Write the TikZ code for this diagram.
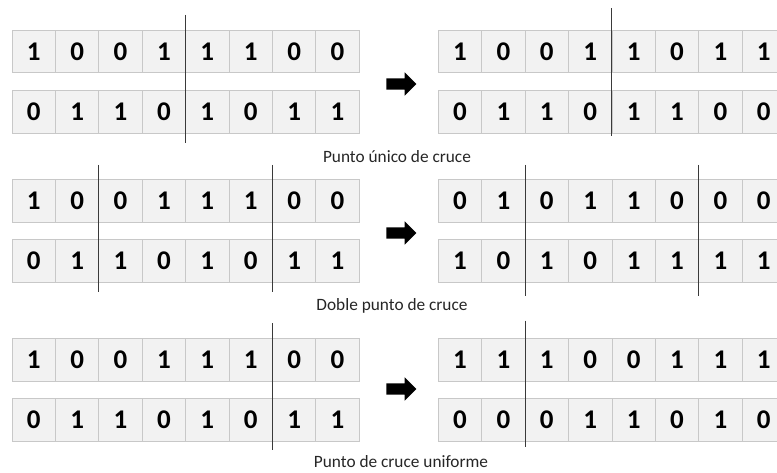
\documentclass[tikz,border=0pt]{standalone}
\usepackage{fontspec}
\setmainfont{Carlito}
\usetikzlibrary{shapes.arrows}
\definecolor{cellfill}{HTML}{F2F2F2}
\definecolor{cellline}{HTML}{C8C8C8}
\definecolor{cutline}{HTML}{3A3A3A}
\newcommand\bitrow[4]{% name, x0, ytop, bits
  \foreach \v [count=\i] in {#4} {
    \node[cellbox] (#1c\i) at ({#2+(\i-0.5)*43.4},{#3+21.35}) {\v};
  }}
\begin{document}
\begin{tikzpicture}[x=1pt,y=-1pt,
  cellbox/.style={draw=cellline,line width=0.8pt,fill=cellfill,minimum width=43.4pt,minimum height=42.7pt,inner sep=0pt,font=\fontsize{27}{32}\selectfont\bfseries},
  cutln/.style={draw=cutline,line width=0.9pt},
  bigarrow/.style={single arrow,fill=black,draw=none,minimum height=30pt,inner xsep=0pt,inner ysep=5.5pt,single arrow head extend=6pt,single arrow head indent=0pt},
  caption/.style={font=\fontsize{17.3}{21}\selectfont,text=black!85,inner sep=0pt}]
\useasboundingbox (0,0) rectangle (777,473);
\clip (0,0) rectangle (777,473);
\fill[white] (0,0) rectangle (777,473);
% Block 1: single point
\bitrow{aLa}{12}{30}{1,0,0,1,1,1,0,0}
\bitrow{aLb}{12}{90.3}{0,1,1,0,1,0,1,1}
\bitrow{aRa}{438.3}{30}{1,0,0,1,1,0,1,1}
\bitrow{aRb}{438.3}{90.3}{0,1,1,0,1,1,0,0}
\coordinate (aL1t) at (185.6,15); \coordinate (aL1b) at (185.6,142.7);
\coordinate (aR1t) at (611.9,8.3); \coordinate (aR1b) at (611.9,136);
\draw[cutln] (aL1t) -- (aL1b);
\draw[cutln] (aR1t) -- (aR1b);
\node[bigarrow] (arrA) at (398.5,84) {};
\node[caption] (capA) at (397,157) {Punto único de cruce};
% Block 2: double point
\bitrow{bLa}{12}{179.3}{1,0,0,1,1,1,0,0}
\bitrow{bLb}{12}{239.6}{0,1,1,0,1,0,1,1}
\bitrow{bRa}{438.3}{179.3}{0,1,0,1,1,0,0,0}
\bitrow{bRb}{438.3}{239.6}{1,0,1,0,1,1,1,1}
\coordinate (bL1t) at (98.8,165); \coordinate (bL1b) at (98.8,291.7);
\coordinate (bL2t) at (272.4,165); \coordinate (bL2b) at (272.4,291.7);
\coordinate (bR1t) at (525.1,165); \coordinate (bR1b) at (525.1,296);
\coordinate (bR2t) at (698.7,165); \coordinate (bR2b) at (698.7,296);
\draw[cutln] (bL1t) -- (bL1b);
\draw[cutln] (bL2t) -- (bL2b);
\draw[cutln] (bR1t) -- (bR1b);
\draw[cutln] (bR2t) -- (bR2b);
\node[bigarrow] (arrB) at (398.5,233) {};
\node[caption] (capB) at (392,306) {Doble punto de cruce};
% Block 3: uniform
\bitrow{cLa}{12}{338.3}{1,0,0,1,1,1,0,0}
\bitrow{cLb}{12}{398.3}{0,1,1,0,1,0,1,1}
\bitrow{cRa}{438.3}{338.3}{1,1,1,0,0,1,1,1}
\bitrow{cRb}{438.3}{398.3}{0,0,0,1,1,0,1,0}
\coordinate (cL1t) at (272.4,323.3); \coordinate (cL1b) at (272.4,450);
\coordinate (cR1t) at (525.1,320.7); \coordinate (cR1b) at (525.1,446.7);
\draw[cutln] (cL1t) -- (cL1b);
\draw[cutln] (cR1t) -- (cR1b);
\node[bigarrow] (arrC) at (398.5,389) {};
\node[caption] (capC) at (401,462) {Punto de cruce uniforme};
\end{tikzpicture}
\end{document}
